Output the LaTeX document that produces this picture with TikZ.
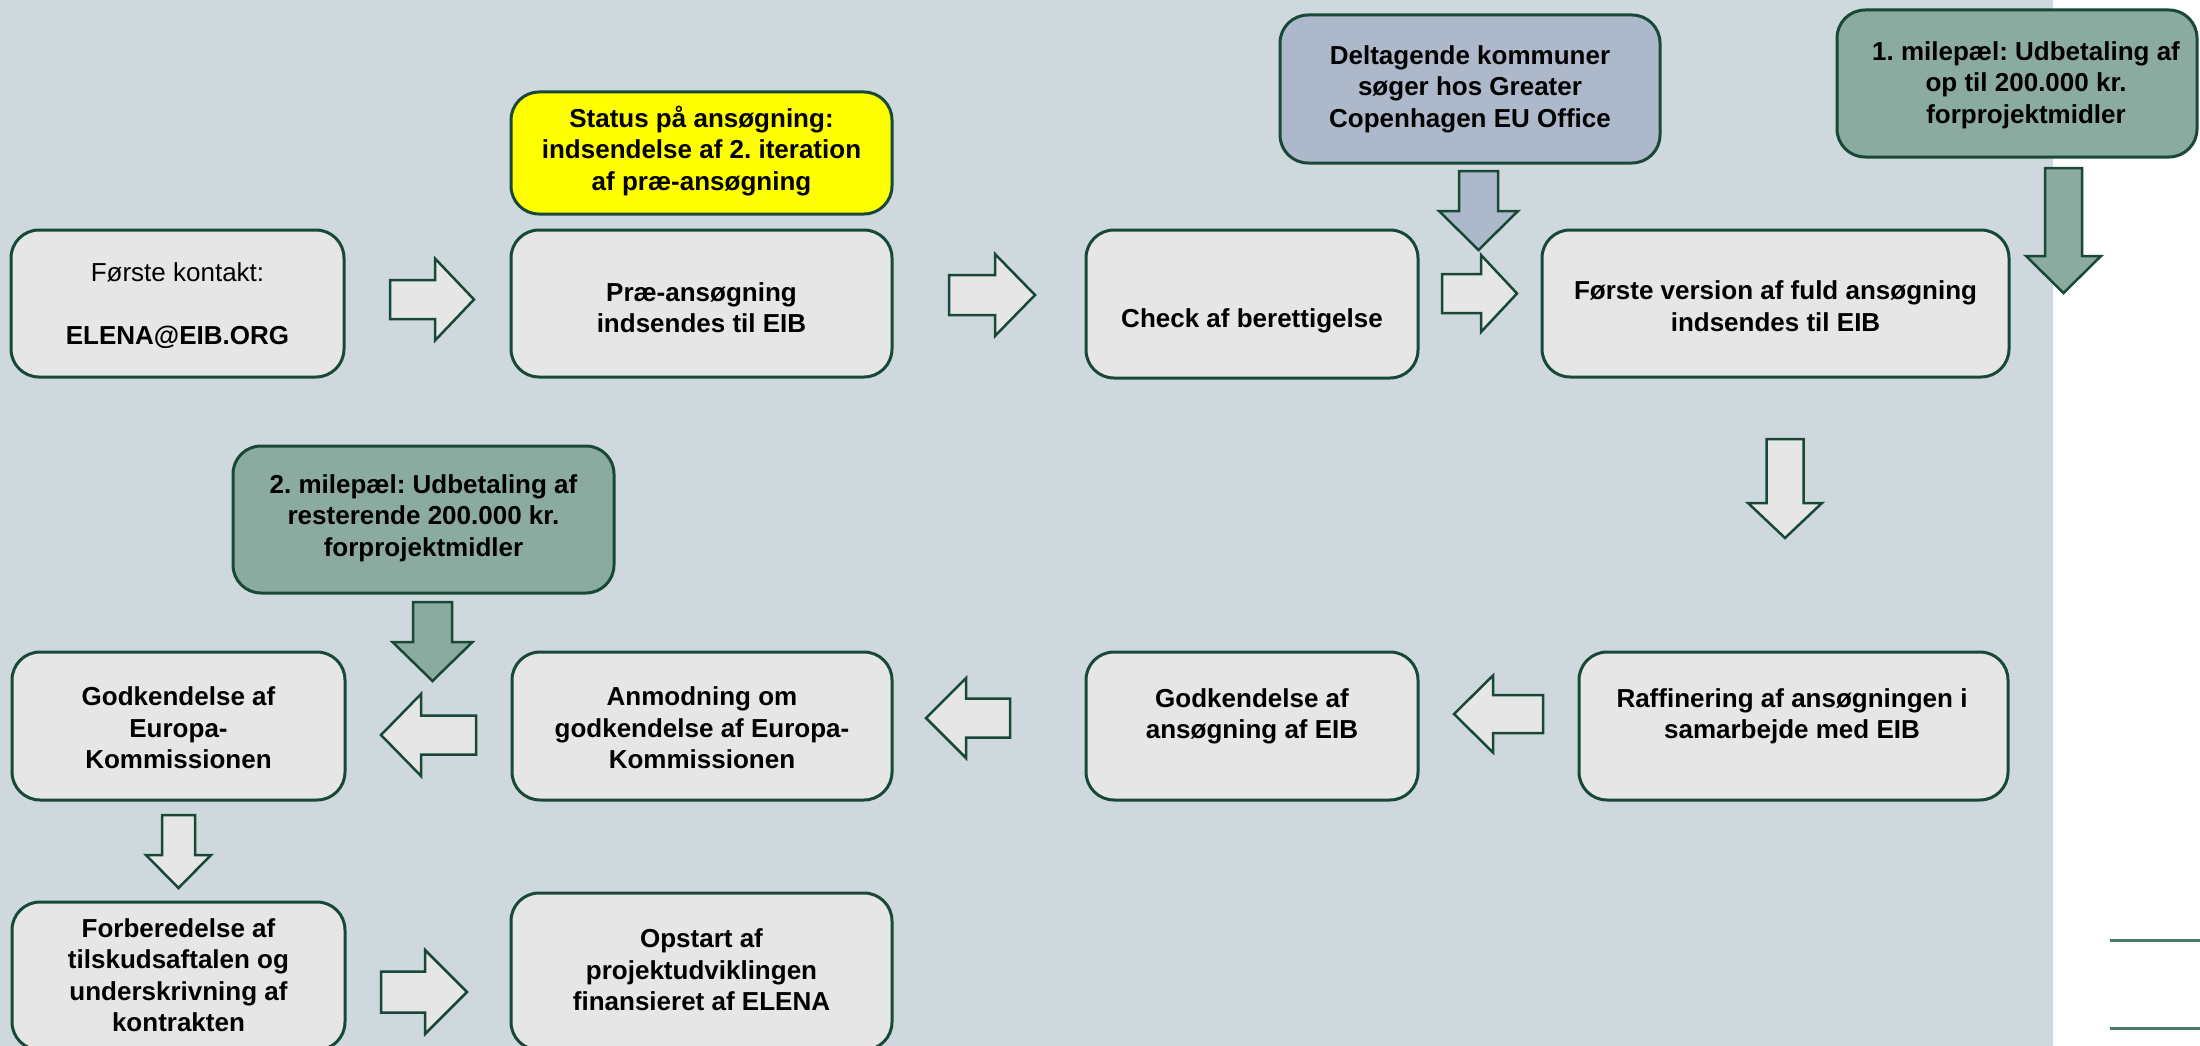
\documentclass[tikz,border=0pt]{standalone}
\usepackage{fontspec}
\setmainfont{Liberation Sans}
\frenchspacing
\definecolor{bgc}{RGB}{207,217,221}
\definecolor{boxfill}{RGB}{230,230,230}
\definecolor{bord}{RGB}{24,72,56}
\definecolor{yel}{RGB}{255,255,0}
\definecolor{bluef}{RGB}{173,185,202}
\definecolor{greenf}{RGB}{139,170,160}
\definecolor{linec}{RGB}{75,122,106}
\tikzset{
  box/.style={draw=bord, line width=3pt, fill=boxfill, rounded corners=28pt, inner sep=0pt, rectangle},
  txt/.style={align=center, inner sep=0pt, font=\fontsize{26}{31.5}\selectfont\bfseries},
  arrw/.style={draw=bord, line width=2.5pt, fill=boxfill, line join=miter},
}
% box: name, x1, y1, x2, y2, extra style
\newcommand\mybox[6]{\node[box,#6,minimum width={#4-#2},minimum height={#5-#3}] (#1) at ({(#2+#4)/2},{(#3+#5)/2}) {};}
% horizontal block arrow: tail x, base x, tip x, center y, shaft half, head half, style
\newcommand\myharr[7]{\draw[#7] ({#1},{#4-#5}) -- ({#2},{#4-#5}) -- ({#2},{#4-#6}) -- ({#3},{#4}) -- ({#2},{#4+#6}) -- ({#2},{#4+#5}) -- ({#1},{#4+#5}) -- cycle;}
% vertical (down) block arrow: center x, top y, base y, tip y, shaft half, head half, style
\newcommand\myvarr[7]{\draw[#7] ({#1-#5},{#2}) -- ({#1+#5},{#2}) -- ({#1+#5},{#3}) -- ({#1+#6},{#3}) -- ({#1},{#4}) -- ({#1-#6},{#3}) -- ({#1-#5},{#3}) -- cycle;}
\begin{document}
\begin{tikzpicture}[x=1pt,y=-1pt]
\useasboundingbox (0,0) rectangle (2200,1046);
\fill[white] (0,0) rectangle (2200,1046);
\fill[bgc] (0,0) rectangle (2053,1046);
% right decorative lines
\draw[linec, line width=3pt] (2110,940) -- (2200,940);
\draw[linec, line width=3pt] (2110,1028) -- (2200,1028);

% boxes
\mybox{b1}{11}{230}{344}{377}{}
\mybox{b2}{511}{230}{892}{377}{}
\mybox{by}{511}{92}{892}{214}{fill=yel}
\mybox{b3}{1086}{230}{1418}{378}{}
\mybox{bb}{1280}{15}{1660}{163}{fill=bluef}
\mybox{b4}{1542}{230}{2009}{377}{}
\mybox{bg1}{1837}{10}{2197}{157}{fill=greenf}
\mybox{b5}{1579}{652}{2008}{800}{}
\mybox{b6}{1086}{652}{1418}{800}{}
\mybox{b7}{512}{652}{892}{800}{}
\mybox{b8}{12}{652}{345}{800}{}
\mybox{bg2}{233}{446}{614}{593}{fill=greenf}
\mybox{b9}{12}{902}{345}{1050}{}
\mybox{b10}{511}{893}{892}{1050}{}

% texts
\node[txt] (t1) at (177.5,305.5) {\mdseries Første kontakt:\\[31.5pt]ELENA@EIB.ORG};
\node[txt] (t2) at (701.5,307.5) {Præ-ansøgning\\indsendes til EIB};
\node[txt] (ty) at (701.5,151) {Status på ansøgning:\\indsendelse af 2. iteration\\af præ-ansøgning};
\node[txt] (t3) at (1252,321) {Check af berettigelse};
\node[txt] (tb) at (1470,89) {Deltagende kommuner\\søger hos Greater\\Copenhagen EU Office};
\node[txt] (t4) at (1775.5,306) {Første version af fuld ansøgning\\indsendes til EIB};
\node[txt] (tg1) at (2026,85) {1. milepæl: Udbetaling af\\op til 200.000 kr.\\forprojektmidler};
\node[txt] (t5) at (1792,716.5) {Raffinering af ansøgningen i\\samarbejde med EIB};
\node[txt] (t6) at (1252,716.5) {Godkendelse af\\ansøgning af EIB};
\node[txt] (t7) at (702,728) {Anmodning om\\godkendelse af Europa-\\Kommissionen};
\node[txt] (t8) at (178.5,728) {Godkendelse af\\Europa-\\Kommissionen};
\node[txt] (tg2) at (423.5,518) {2. milepæl: Udbetaling af\\resterende 200.000 kr.\\forprojektmidler};
\node[txt] (t9) at (178.5,975) {Forberedelse af\\tilskudsaftalen og\\underskrivning af\\kontrakten};
\node[txt] (t10) at (701.5,970) {Opstart af\\projektudviklingen\\finansieret af ELENA};

% block arrows
\myharr{390}{435}{474}{299.5}{19.5}{41}{arrw}
\myharr{949}{995}{1035}{295}{20}{41}{arrw}
\myharr{1442}{1481}{1517}{293.5}{19.5}{38.5}{arrw}
\myvarr{1478.5}{171}{211}{250}{19.5}{39.5}{arrw,fill=bluef}
\myvarr{2063.5}{168}{256}{293}{18.5}{37.5}{arrw,fill=greenf}
\myvarr{1785}{439}{503}{538}{18.5}{37}{arrw}
\myharr{1543}{1493}{1454}{714}{19}{38.5}{arrw}
\myharr{1010}{966}{926}{718}{19.5}{40}{arrw}
\myharr{476}{421}{381}{735}{19.5}{41}{arrw}
\myvarr{432.5}{602}{642}{681}{19.5}{40}{arrw,fill=greenf}
\myvarr{178.5}{815}{855}{888}{16.5}{32.5}{arrw}
\myharr{381}{425}{467}{992}{20.5}{42}{arrw}
\end{tikzpicture}
\end{document}
